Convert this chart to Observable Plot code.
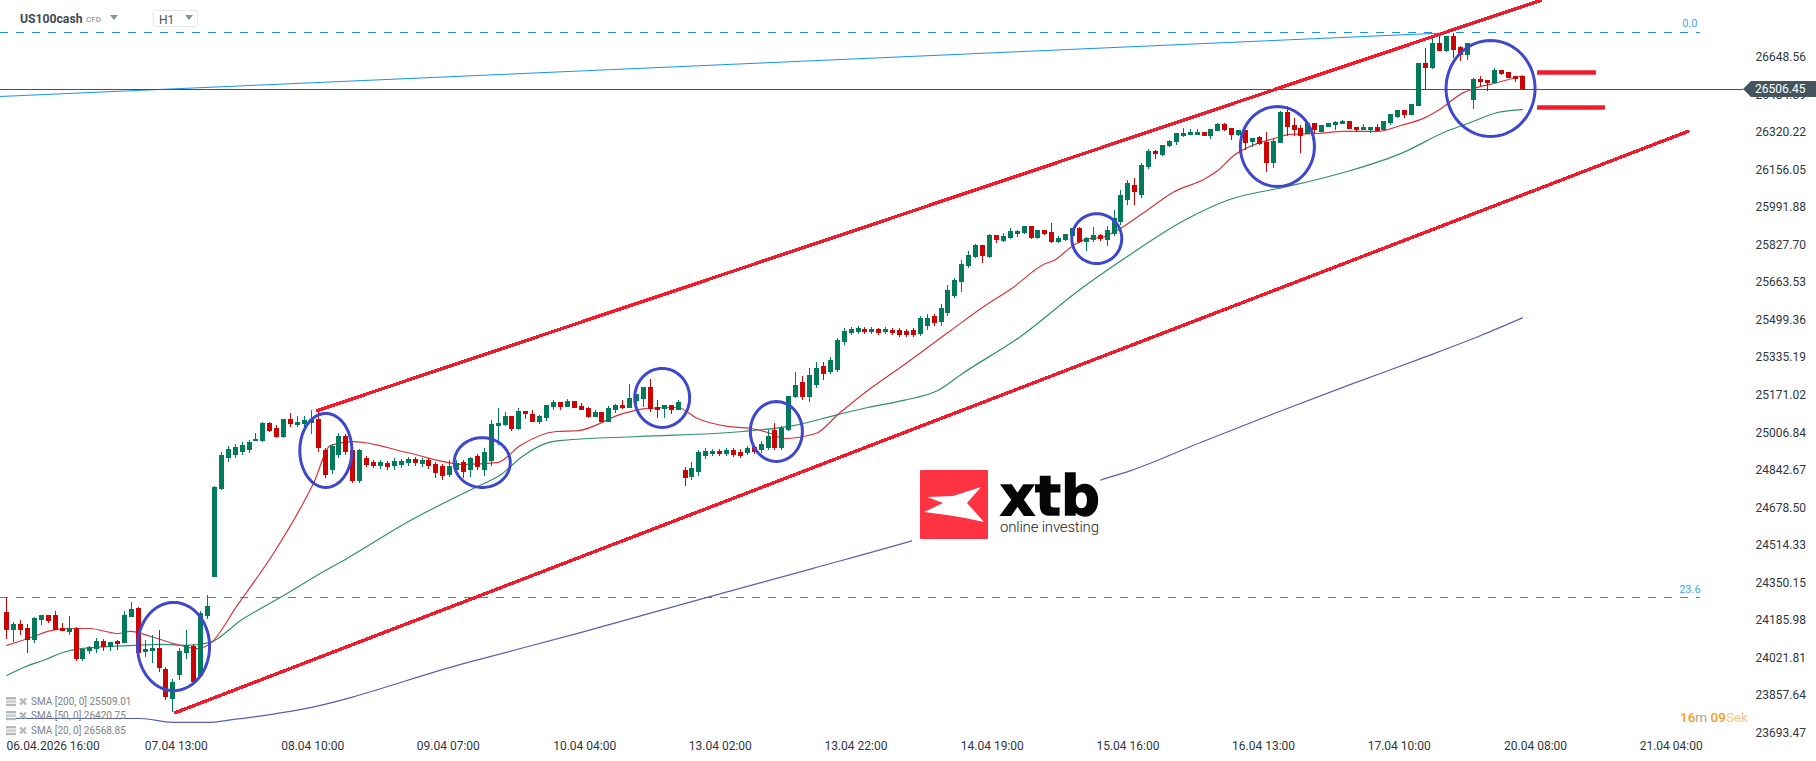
<!DOCTYPE html>
<html><head><meta charset="utf-8">
<script src="https://cdn.jsdelivr.net/npm/d3@7"></script>
<script src="https://cdn.jsdelivr.net/npm/@observablehq/plot@0.6"></script>
<style>
html,body{margin:0;padding:0;background:#fff;overflow:hidden;font-family:Roboto,sans-serif}
#wrap{position:relative;width:1816px;height:761px}
#chart svg{display:block}
.ov{position:absolute;white-space:nowrap;line-height:1}
</style></head><body>
<div id="wrap"><div id="chart"></div>
<div class="ov" style="left:20px;top:13px;font-size:12.2px;font-weight:700;color:#3d4a54">US100cash</div>
<div class="ov" style="left:86px;top:16px;font-size:8px;font-weight:500;color:#9aa0a5">CFD</div>
<div class="ov" style="left:110px;top:15px;width:0;height:0;border-left:4.5px solid transparent;border-right:4.5px solid transparent;border-top:5px solid #8d9296"></div>
<div class="ov" style="left:153px;top:10px;width:43px;height:15px;border:1px solid #e6e8ea;border-radius:2px"></div>
<div class="ov" style="left:159px;top:14px;font-size:12px;color:#4a555e">H1</div>
<div class="ov" style="left:185px;top:15px;width:0;height:0;border-left:4.5px solid transparent;border-right:4.5px solid transparent;border-top:5px solid #8d9296"></div>

<div class="ov" id="legend" style="left:6px;top:695px;color:#7d8286;font-size:10px"></div>

<div class="ov" style="left:1680px;top:711px;font-size:13.5px;color:#f59b23;font-weight:500">16<span style="color:#b0a08a;font-weight:400">m</span> 09<span style="color:#f7c58a;font-weight:400">Sek</span></div>

<div class="ov" style="left:1743px;top:81px;width:73px;height:16px;background:#455560;clip-path:polygon(0 50%,8px 0,100% 0,100% 100%,8px 100%)"></div>
<div class="ov" style="left:1755px;top:83px;font-size:12px;color:#fff">26506.45</div>

<svg class="ov" style="left:910px;top:460px" width="220" height="110" viewBox="0 0 220 110">
  <rect x="2" y="2" width="188" height="100" fill="#fff"/>
  <rect x="10" y="10" width="68" height="69" rx="1" fill="#fd3341"/>
  <polygon points="17,37 43,36 71,27 57,43 74,62 55,58 37,55 14,52 33,43" fill="#fff"/>
  <text x="90" y="55" font-family="DejaVu Sans" font-weight="700" font-size="55" textLength="100" lengthAdjust="spacingAndGlyphs" fill="#050505" stroke="#050505" stroke-width="1.4">xtb</text>
  <text x="90" y="72" font-family="Roboto" font-weight="300" font-size="15" textLength="99" fill="#222">online investing</text>
</svg>
</div>
<script>
// Price data, candle by candle
const opens = [24220,24141,24167,24150,24097,24185,24207,24207,24150,24132,24150,24014,24049,24058,24093,24067,24093,24084,24198,24237,24045,24049,24062,23970,23839,23944,24040,24071,23940,24202,
24373,24758,24894,24907,24920,24929,24968,24968,25047,25025,24986,25065,25038,25043,25047,25065,24929,24841,24907,24990,24929,24793,24894,24876,24859,24872,24859,24863,24872,24889,
24868,24885,24868,24859,24819,24841,24876,24841,24903,24841,24881,25034,25038,25078,25021,25099,25086,25051,25069,25117,25139,25117,25143,25121,25113,25073,25095,25051,25104,25126,
25113,25143,25152,25204,25117,25108,25126,25104,24841,24811,24832,24903,24911,24924,24911,24929,24920,24916,24942,24929,24938,25016,24938,25016,25161,25226,25161,25213,25296,25270,
25279,25401,25441,25445,25458,25445,25458,25445,25454,25454,25450,25454,25436,25471,25515,25489,25528,25603,25664,25734,25773,25826,25773,25870,25843,25856,25874,25878,25909,25856,
25892,25883,25839,25848,25865,25900,25839,25848,25870,25848,25874,25927,26023,26088,26045,26167,26237,26220,26259,26277,26303,26307,26307,26320,26303,26325,26355,26338,26307,26329,
26277,26298,26277,26185,26272,26408,26351,26338,26312,26360,26320,26342,26351,26355,26368,26342,26329,26329,26342,26329,26360,26386,26417,26395,26434,26622,26600,26710,26675,26740,
26692,26657,26460,26552,26548,26535,26592,26583,26565,26565];
const highs = [24286,24176,24185,24167,24198,24207,24207,24224,24172,24202,24154,24058,24071,24106,24102,24089,24097,24224,24264,24242,24097,24119,24141,23979,23927,24062,24141,24080,24224,24294,
24771,24920,24946,24955,24964,24973,25003,25051,25051,25038,25065,25091,25078,25078,25104,25099,24938,24955,25003,24999,24942,24933,24903,24885,24885,24881,24894,24889,24898,24898,
24894,24894,24876,24868,24885,24885,24885,24898,24911,24938,25060,25113,25095,25078,25113,25099,25104,25082,25126,25148,25139,25152,25143,25134,25117,25104,25095,25121,25130,25148,
25218,25174,25204,25239,25148,25126,25126,25148,24854,24876,24929,24938,24933,24933,24938,24938,24933,24946,24951,24968,25016,25047,25034,25165,25270,25253,25288,25314,25314,25336,
25419,25463,25467,25471,25467,25467,25463,25467,25463,25463,25458,25463,25515,25524,25524,25568,25651,25681,25760,25800,25830,25826,25874,25870,25878,25900,25892,25909,25909,25892,
25892,25922,25865,25874,25900,25905,25861,25905,25874,25909,25979,26067,26110,26119,26185,26246,26242,26263,26285,26316,26338,26333,26333,26320,26333,26360,26360,26338,26329,26329,
26294,26303,26320,26294,26412,26434,26382,26351,26368,26360,26351,26360,26368,26373,26368,26342,26355,26342,26355,26368,26399,26417,26417,26443,26622,26688,26732,26754,26740,26754,
26697,26710,26557,26565,26548,26600,26592,26583,26565,26565];
const lows = [24102,24089,24119,24040,24084,24163,24172,24141,24137,24119,24005,24005,24036,24040,24049,24049,24054,24084,24198,24040,24023,23997,23957,23835,23782,23922,24014,23900,23931,24189,
24373,24754,24876,24894,24907,24916,24968,24964,25008,24981,24981,25029,25029,25025,24999,24920,24806,24824,24894,24907,24784,24784,24854,24850,24846,24841,24841,24850,24859,24859,
24854,24846,24806,24798,24811,24828,24806,24811,24841,24815,24859,24951,25034,25012,25016,25065,25051,25043,25056,25104,25104,25117,25113,25104,25069,25073,25051,25051,25091,25108,
25113,25117,25117,25095,25069,25069,25086,25104,24771,24798,24815,24889,24903,24903,24903,24898,24894,24907,24911,24916,24929,24929,24929,25012,25156,25148,25139,25200,25235,25261,
25270,25388,25432,25436,25436,25436,25432,25436,25432,25423,25423,25423,25428,25454,25471,25471,25515,25594,25620,25725,25769,25747,25769,25835,25839,25852,25861,25874,25852,25852,
25870,25835,25835,25843,25861,25835,25800,25839,25843,25821,25865,25913,26001,26001,26032,26158,26202,26215,26255,26263,26298,26307,26307,26303,26290,26325,26325,26285,26303,26242,
26255,26263,26145,26163,26272,26303,26303,26228,26312,26312,26320,26342,26329,26355,26333,26320,26329,26316,26325,26329,26351,26382,26382,26395,26434,26509,26596,26675,26670,26644,
26631,26635,26421,26522,26500,26535,26570,26557,26539,26506];
const closes = [24141,24167,24141,24097,24194,24207,24181,24141,24137,24150,24014,24058,24067,24093,24067,24089,24080,24207,24233,24040,24058,24062,23975,23848,23914,24049,24076,23914,24216,24246,
24767,24907,24933,24942,24951,24964,24977,25047,25012,24986,25065,25043,25051,25060,25065,24938,24819,24946,24990,24920,24793,24929,24863,24859,24876,24854,24881,24881,24889,24872,
24885,24859,24828,24815,24859,24872,24832,24894,24854,24920,25043,25047,25078,25021,25099,25086,25051,25078,25126,25139,25117,25143,25113,25104,25073,25095,25051,25113,25126,25113,
25156,25174,25204,25108,25104,25126,25104,25139,24806,24850,24920,24924,24924,24911,24929,24907,24903,24938,24920,24955,24990,24938,25025,25165,25213,25161,25257,25288,25261,25323,
25410,25450,25458,25463,25445,25458,25441,25458,25441,25432,25432,25432,25506,25506,25485,25550,25629,25673,25743,25782,25826,25778,25870,25848,25865,25887,25887,25909,25856,25892,
25874,25839,25856,25874,25900,25839,25856,25870,25852,25892,25944,26045,26097,26058,26176,26237,26224,26263,26281,26316,26316,26320,26320,26303,26333,26355,26329,26307,26329,26272,
26294,26268,26185,26281,26408,26342,26329,26303,26360,26329,26351,26360,26364,26368,26333,26329,26342,26342,26325,26368,26399,26417,26395,26443,26622,26600,26710,26675,26740,26679,
26657,26710,26552,26539,26535,26592,26574,26557,26552,26506.45];

// Moving averages: candle position and value
const sma20X = [0,3.9,5.9,8.9,12,16,17.9,20.8,24.1,27.6,29.4,33.3,38.8,44.3,46.8,50.2,57.8,66.1,70.9,74.2,79.4,82.6,89.1,92.6,96.9,99.8,104.1,107.5,110.4,112.2,116.9,120.1,124.4,129.1,136.4,141.4,145,150.1,151.3,154.1,156.2,158.1,159.9,164.3,168.5,173.2,175,177.3,179.3,183.1,185.5,189.4,193.2,198.1,201.4,204.7,206.8,210.5,212,215.4,219];
const sma20Y = [24076,24115,24137,24150,24150,24128,24137,24115,24084,24062,24084,24251,24491,24784,24951,24968,24920,24868,24876,24951,25012,25016,25091,25113,25117,25069,25034,25025,25003,24981,25003,25086,25191,25292,25454,25563,25633,25747,25760,25826,25856,25861,25883,25970,26058,26119,26154,26220,26255,26294,26312,26316,26325,26325,26351,26382,26417,26495,26513,26539,26568.85];
const sma50X = [0,2.4,5.6,8.1,10.7,18.3,22.2,26.1,29.4,33.8,40,45.3,49.4,57.8,67.7,71.2,74.5,77.9,80.3,91.3,106.3,113.7,120.1,124.4,129.6,134.5,138.1,146.5,154.9,161.7,170.1,176.7,185.1,194.2,201.4,208.3,211.5,215.4,219];
const sma50Y = [23944,23979,24014,24045,24062,24076,24080,24076,24089,24185,24294,24391,24461,24614,24767,24819,24903,24960,24973,24990,25012,25038,25086,25117,25148,25191,25266,25428,25629,25773,25935,26027,26084,26154,26228,26329,26364,26408,26420.75];
const sma200X = [0,19.3,23.9,29,32.8,42.4,66.1,82.9,101.2,116.4,132,158.3,162.4,172.5,183.5,194.2,204.3,213,219];
const sma200Y = [23756,23756,23739,23739,23752,23795,23997,24132,24286,24412,24544,24802,24841,24964,25095,25218,25331,25432,25509.01];

// Axis labels
const yTicks = [26648.56,26484.39,26320.22,26156.05,25991.88,25827.70,25663.53,25499.36,25335.19,25171.02,25006.84,24842.67,24678.50,24514.33,24350.15,24185.98,24021.81,23857.64,23693.47];
const xTickPos = [6.7,24.5,44.2,63.8,83.5,103.1,122.7,142.4,162,181.6,201.2,220.9,240.5];
const xTickLabels = ["06.04.2026 16:00","07.04 13:00","08.04 10:00","09.04 07:00","10.04 04:00","13.04 02:00","13.04 22:00","14.04 19:00","15.04 16:00","16.04 13:00","17.04 10:00","20.04 08:00","21.04 04:00"];

// Drawn levels, trend lines and marked areas
const lastPrice = 26506.45;
const fibLevels = [26756.6,24284];
const fibNames = ["0.0","23.6"];
const fibNameY = [26797,24320];
const blueTrendX = [-0.91,207.8], blueTrendY = [26478,26756];
const upperX = [44.9,221.6], upperY = [25104,26898];
const lowerX = [24.4,242.9], lowerY = [23782,26325];
const stubsX = [[221.2,229.7],[221.2,231]], stubsY = [26583,26430];
const circleX = [24.1,46.1,68.7,94.7,111.2,157.5,183.6,214.4];
const circleY = [24071,24929,24876,25159,25012,25856,26259,26513];
const circleRX = [5.2,3.76,4.05,3.97,3.76,3.61,5.35,6.43];
const circleRY = [193,162,109,129,131,109,175,210];
const legendRows = ["SMA [200, 0] 25509.01","SMA [50, 0] 26420.75","SMA [20, 0] 26568.85"];

const idx = d3.range(opens.length);
const up = idx.filter(i => closes[i] >= opens[i]);
const down = idx.filter(i => closes[i] < opens[i]);
const GREEN = "#037b5a", RED = "#cc0404";
const crisp = {shapeRendering: "crispEdges"};
const series = (xs, ys) => xs.map((x, i) => ({x, y: ys[i]}));
const ellipses = circleX.flatMap((cx, k) => d3.range(0, 73).map(a => ({
  k, x: cx + circleRX[k] * Math.cos(a * Math.PI / 36), y: circleY[k] + circleRY[k] * Math.sin(a * Math.PI / 36)
})));
const segment = (xs, ys, opts) => Plot.line(series(xs, ys), {x: "x", y: "y", ...opts});

const plot = Plot.plot({
  width: 1816, height: 761,
  marginTop: 0, marginRight: 0, marginBottom: 0, marginLeft: 0,
  style: {fontFamily: "Roboto", fontSize: "12px", color: "#2f363c", background: "#fff"},
  x: {domain: [-0.91, 261.5], range: [0, 1816]},
  y: {domain: [26898, 23567.9], range: [0, 761]},
  marks: [
    Plot.axisY({anchor: "right", ticks: yTicks, tickSize: 0, tickFormat: d3.format(".2f"), dx: -70, label: null, fontSize: 12}),
    Plot.axisX({anchor: "bottom", ticks: xTickPos, tickSize: 0, tickFormat: d => xTickLabels[xTickPos.indexOf(d)], dy: -29, label: null, fontSize: 12}),
    Plot.ruleY(fibLevels, {x1: -0.91, x2: 244.8, stroke: "#1c8fef", strokeWidth: 1, strokeDasharray: "8,8", ...crisp}),
    Plot.text(fibNames, {x: 243.2, y: (d, i) => fibNameY[i], text: d => d, fill: "#42a5f5", fontSize: 11}),
    segment(blueTrendX, blueTrendY, {stroke: "#1594f5", strokeWidth: 1}),
    Plot.ruleY([lastPrice], {x1: -0.91, x2: 251, stroke: "#44525c", strokeWidth: 1, ...crisp}),
    segment(sma200X, sma200Y, {stroke: "#5560b4", strokeWidth: 1.2, curve: "monotone-x"}),
    segment(sma50X, sma50Y, {stroke: "#2f8f70", strokeWidth: 1.2, curve: "monotone-x"}),
    segment(sma20X, sma20Y, {stroke: "#d8343c", strokeWidth: 1.2, curve: "monotone-x"}),
    Plot.ruleX(up, {x: i => i, y1: i => lows[i], y2: i => highs[i], stroke: GREEN, strokeWidth: 1, ...crisp}),
    Plot.ruleX(down, {x: i => i, y1: i => lows[i], y2: i => highs[i], stroke: RED, strokeWidth: 1, ...crisp}),
    Plot.ruleX(up, {x: i => i, y1: i => opens[i], y2: i => closes[i], stroke: GREEN, strokeWidth: 5, ...crisp}),
    Plot.ruleX(down, {x: i => i, y1: i => opens[i], y2: i => closes[i], stroke: RED, strokeWidth: 5, ...crisp}),
    segment(upperX, upperY, {stroke: "#f01c2c", strokeWidth: 3.4, ...crisp}),
    segment(lowerX, lowerY, {stroke: "#f01c2c", strokeWidth: 3.4, ...crisp}),
    Plot.ruleY(stubsY, {x1: (d, i) => stubsX[i][0], x2: (d, i) => stubsX[i][1], stroke: "#ee1c2c", strokeWidth: 4.5}),
    Plot.line(ellipses, {x: "x", y: "y", z: "k", stroke: "#3f48cc", strokeWidth: 3, curve: "linear"})
  ]
});
document.getElementById("chart").append(plot);

document.getElementById("legend").innerHTML = legendRows.map(t =>
  `<div style="height:14.3px;display:flex;align-items:center">
     <svg width="25" height="10" viewBox="0 0 25 10">
       <rect x="0" y="0" width="10" height="2.4" fill="#b4b8bb"/><rect x="0" y="3.4" width="10" height="2.4" fill="#c8cbcd"/><rect x="0" y="6.8" width="10" height="2.4" fill="#b4b8bb"/>
       <path d="M14 1.5l6 6M20 1.5l-6 6" stroke="#b4b8bb" stroke-width="2.4"/>
     </svg><span>${t}</span></div>`).join("");
</script>
</body></html>
